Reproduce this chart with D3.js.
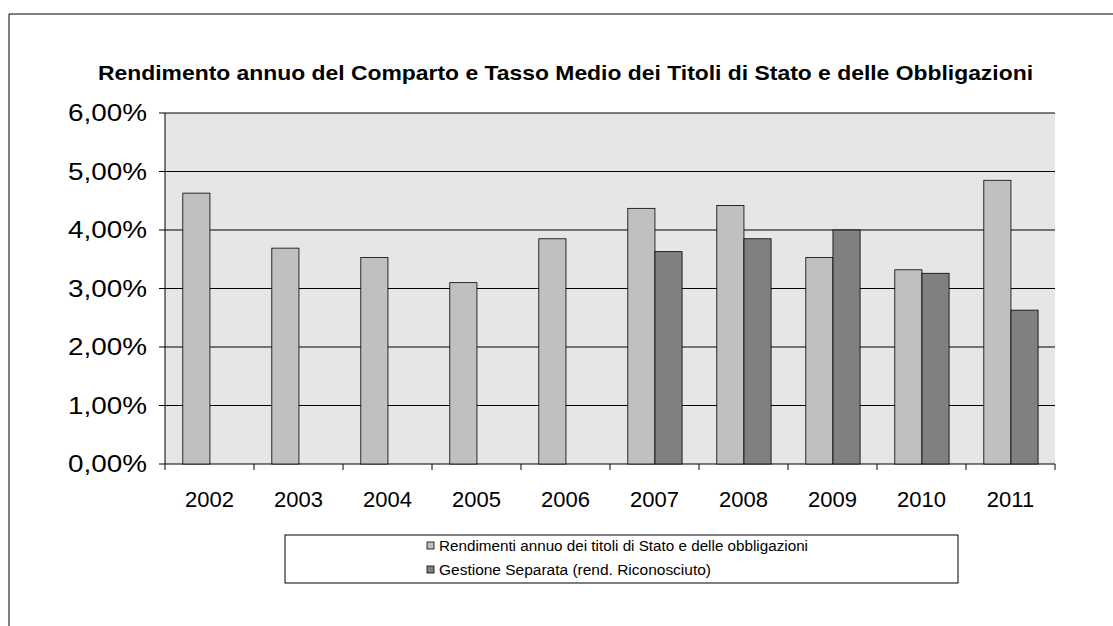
<!DOCTYPE html><html><head><meta charset="utf-8"><script src="https://cdn.jsdelivr.net/npm/d3@7"></script>
<style>body{margin:0;background:#fff}svg{font-family:"Liberation Sans",Arial,sans-serif}</style></head><body><svg id="c" width="1113" height="626"></svg>
<script>
const years=["2002","2003","2004","2005","2006","2007","2008","2009","2010","2011"];
const rendimenti=[4.63,3.69,3.53,3.10,3.85,4.37,4.42,3.53,3.32,4.85];
const gestione=[null,null,null,null,null,3.63,3.85,4.00,3.26,2.63];
const yTicks=[0,1,2,3,4,5,6];
const svg=d3.select("#c");
svg.append("path").attr("d","M9,626V14H1113").attr("fill","none").attr("stroke","#000");
const L=165,R=1055,T=113,B=464;
const x=d3.scaleBand().domain(years).range([L,R]);
const y=d3.scaleLinear().domain([0,6]).range([B,T]);
svg.append("rect").attr("x",L).attr("y",T).attr("width",R-L).attr("height",B-T).attr("fill","#e6e6e6");
yTicks.forEach(t=>{svg.append("line").attr("x1",L).attr("x2",R).attr("y1",y(t)).attr("y2",y(t)).attr("stroke","#000");
svg.append("line").attr("x1",L-6).attr("x2",L).attr("y1",y(t)).attr("y2",y(t)).attr("stroke","#000");
svg.append("text").attr("x",L-18).attr("y",y(t)+8).attr("text-anchor","end").attr("font-size",23).attr("textLength",79).attr("lengthAdjust","spacingAndGlyphs").text(t.toFixed(2).replace(".",",")+"%");});
svg.append("line").attr("x1",L).attr("x2",L).attr("y1",T).attr("y2",B).attr("stroke","#000");
years.forEach((yr,i)=>{const x0=x(yr);
svg.append("line").attr("x1",x0).attr("x2",x0).attr("y1",B).attr("y2",B+6).attr("stroke","#000");
svg.append("text").attr("x",x0+x.bandwidth()/2).attr("y",B+43).attr("text-anchor","middle").attr("font-size",22).text(yr);
const bw=x.bandwidth()*0.305, off=x.bandwidth()*0.2;
svg.append("rect").attr("x",x0+off).attr("y",y(rendimenti[i])).attr("width",bw).attr("height",B-y(rendimenti[i])).attr("fill","#c0c0c0").attr("stroke","#000").attr("stroke-width",0.8);
if(gestione[i]!=null)svg.append("rect").attr("x",x0+off+bw).attr("y",y(gestione[i])).attr("width",bw).attr("height",B-y(gestione[i])).attr("fill","#808080").attr("stroke","#000").attr("stroke-width",0.8);
});
svg.append("line").attr("x1",R).attr("x2",R).attr("y1",B).attr("y2",B+6).attr("stroke","#000");
svg.append("text").attr("x",98).attr("y",80).attr("font-size",21).attr("font-weight","bold").attr("textLength",935).attr("lengthAdjust","spacingAndGlyphs").text("Rendimento annuo del Comparto e Tasso Medio dei Titoli di Stato e delle Obbligazioni");
svg.append("rect").attr("x",285).attr("y",535).attr("width",673).attr("height",48).attr("fill","#fff").attr("stroke","#000");
[["Rendimenti annuo dei titoli di Stato e delle obbligazioni","#c0c0c0",369],["Gestione Separata (rend. Riconosciuto)","#808080",272]].forEach((d,i)=>{
const yy=546+i*24;
svg.append("rect").attr("x",427).attr("y",yy-4).attr("width",7).attr("height",7).attr("fill",d[1]).attr("stroke","#000").attr("stroke-width",0.8);
svg.append("text").attr("x",439).attr("y",yy+5).attr("font-size",14).attr("textLength",d[2]).attr("lengthAdjust","spacingAndGlyphs").text(d[0]);});
</script></body></html>
